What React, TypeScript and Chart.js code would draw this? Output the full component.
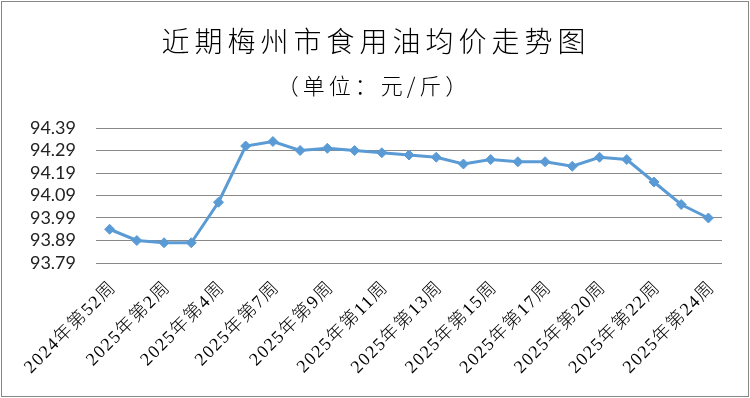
import React, { useEffect, useRef } from "react";
import { Chart, registerables } from "chart.js";

Chart.register(...registerables);

const titleText = "近期梅州市食用油均价走势图";
const subtitleText = "（单位：元/斤）";

const weekLabels = [
  "2024年第52周",
  "2025年第1周",
  "2025年第2周",
  "2025年第3周",
  "2025年第4周",
  "2025年第6周",
  "2025年第7周",
  "2025年第8周",
  "2025年第9周",
  "2025年第10周",
  "2025年第11周",
  "2025年第12周",
  "2025年第13周",
  "2025年第14周",
  "2025年第15周",
  "2025年第16周",
  "2025年第17周",
  "2025年第19周",
  "2025年第20周",
  "2025年第21周",
  "2025年第22周",
  "2025年第23周",
  "2025年第24周",
];

const oilPrices = [
  93.94, 93.89, 93.88, 93.88, 94.06, 94.31, 94.33, 94.29, 94.3, 94.29, 94.28,
  94.27, 94.26, 94.23, 94.25, 94.24, 94.24, 94.22, 94.26, 94.25, 94.15, 94.05,
  93.99,
];

const yMin = 93.79;
const yMax = 94.39;
const yStep = 0.1;

const titlePlugin = {
  id: "customTitle",
  afterDraw(chart: any) {
    const ctx = chart.ctx as CanvasRenderingContext2D;
    ctx.save();
    ctx.fillStyle = "#000";
    ctx.textAlign = "center";
    ctx.textBaseline = "middle";
    (ctx as any).letterSpacing = "5px";
    ctx.font = '300 28px "Noto Sans CJK SC"';
    ctx.fillText(titleText, 374, 39);
    (ctx as any).letterSpacing = "4px";
    ctx.font = '300 22px "Noto Sans CJK SC"';
    ctx.fillText(subtitleText, 372, 84);
    ctx.restore();
  },
};

const spacingPlugin = {
  id: "xLabelSpacing",
  beforeDraw(chart: any) {
    const s = chart.scales.x;
    if (s && !s.__wrapped) {
      const orig = s.drawLabels.bind(s);
      s.drawLabels = (area: any) => {
        const ctx = chart.ctx;
        ctx.save();
        ctx.translate(4, -2);
        ctx.letterSpacing = "1.5px";
        orig(area);
        ctx.restore();
      };
      s.__wrapped = true;
    }
  },
};

export default function App() {
  const ref = useRef<HTMLCanvasElement | null>(null);
  useEffect(() => {
    if (!ref.current) return;
    const chart = new Chart(ref.current, {
      type: "line",
      data: {
        labels: weekLabels,
        datasets: [
          {
            data: oilPrices,
            borderColor: "#5B9BD5",
            backgroundColor: "#5B9BD5",
            borderWidth: 3,
            pointStyle: "rectRot",
            pointRadius: 5,
            pointBorderWidth: 1,
            pointBackgroundColor: "#5B9BD5",
            pointBorderColor: "#5B9BD5",
            tension: 0,
          },
        ],
      },
      options: {
        animation: false,
        responsive: true,
        maintainAspectRatio: false,
        layout: { padding: { left: 0, right: 26, top: 126, bottom: 0 } },
        plugins: {
          legend: { display: false },
          title: { display: false },
          tooltip: { enabled: false },
        },
        scales: {
          x: {
            offset: true,
            grid: { display: false, drawTicks: false },
            border: { display: false },
            ticks: {
              autoSkip: false,
              minRotation: 45,
              maxRotation: 45,
              padding: 16,
              color: "#000",
              font: { family: '"Liberation Serif", "Noto Sans CJK SC"', size: 18, weight: "300" },
              callback: (_v: any, i: number) => (i % 2 === 0 ? weekLabels[i] : null),
            },
            afterFit(scale: any) {
              scale.height = 133;
            },
          },
          y: {
            min: yMin,
            max: yMax,
            grid: { color: "#898989", lineWidth: 1, drawTicks: false },
            border: { display: false },
            ticks: {
              stepSize: yStep,
              autoSkip: false,
              padding: 20,
              color: "#222",
              font: { family: "Lato", size: 18 },
              callback: (v: any) => Number(v).toFixed(2),
            },
            afterFit(scale: any) {
              scale.width = 94;
            },
          },
        },
      },
      plugins: [titlePlugin, spacingPlugin],
    });
    return () => chart.destroy();
  }, []);
  return (
    <div
      style={{
        position: "fixed",
        left: 1,
        top: 1,
        width: 748,
        height: 396,
        border: "1px solid #878787",
        boxSizing: "border-box",
        background: "#fff",
      }}
    >
      <canvas ref={ref} />
    </div>
  );
}
